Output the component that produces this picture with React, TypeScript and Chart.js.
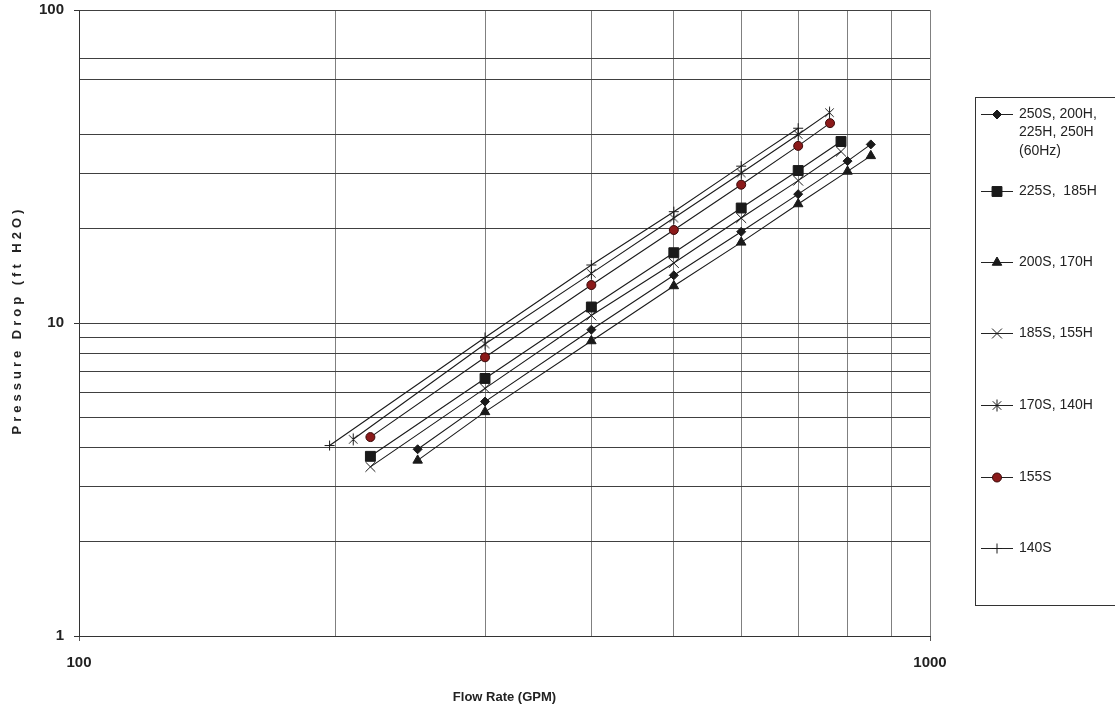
import React, { useEffect, useRef } from "react";
import { Chart, registerables } from "chart.js";

Chart.register(...registerables);

const FONT = '"Liberation Sans", Arial, Helvetica, sans-serif';

// ---- data ----
const flow250S = [250, 300, 400, 500, 600, 700, 800, 852];
const drop250S = [3.95, 5.61, 9.52, 14.2, 19.57, 25.8, 32.9, 37.2];
const flow225S = [220, 300, 400, 500, 600, 700, 786];
const drop225S = [3.75, 6.65, 11.25, 16.77, 23.3, 30.7, 38.0];
const flow200S = [250, 300, 400, 500, 600, 700, 800, 852];
const drop200S = [3.64, 5.2, 8.76, 13.13, 18.1, 24.0, 30.5, 34.2];
const flow185S = [220, 300, 400, 500, 600, 700, 786];
const drop185S = [3.47, 6.18, 10.57, 15.55, 21.65, 28.5, 35.3];
const flow170S = [210, 300, 400, 500, 600, 700, 762];
const drop170S = [4.25, 8.57, 14.41, 21.65, 30.15, 40.0, 47.0];
const flow155S = [220, 300, 400, 500, 600, 700, 763];
const drop155S = [4.32, 7.77, 13.22, 19.82, 27.66, 36.8, 43.5];
const flow140S = [197, 300, 400, 500, 600, 700];
const drop140S = [4.06, 8.99, 15.32, 22.68, 31.7, 41.9];

const legendLabels = [
  ["250S, 200H,", "225H, 250H", "(60Hz)"],
  ["225S,  185H"],
  ["200S, 170H"],
  ["185S, 155H"],
  ["170S, 140H"],
  ["155S"],
  ["140S"],
];

const yGridValues = [1, 2, 3, 4, 5, 6, 7, 8, 9, 10, 20, 30, 40, 60, 70, 100];
const xGridValues = [100, 200, 300, 400, 500, 600, 700, 800, 900, 1000];
const yLabelValues = [1, 10, 100];
const xLabelValues = [100, 1000];

const xTitle = "Flow Rate (GPM)";
const yTitle = "Pressure Drop (ft H2O)";

type Marker = { style: string; radius: number; fill: string; stroke: string; width: number };

const markers: Marker[] = [
  { style: "rectRot", radius: 4.5, fill: "#1a1a1a", stroke: "#1a1a1a", width: 1 },
  { style: "rect", radius: 7, fill: "#1a1a1a", stroke: "#1a1a1a", width: 1 },
  { style: "triangle", radius: 5.5, fill: "#1a1a1a", stroke: "#1a1a1a", width: 1 },
  { style: "crossRot", radius: 7, fill: "#1a1a1a", stroke: "#1a1a1a", width: 1 },
  { style: "asterisk", radius: 6, fill: "#1a1a1a", stroke: "#1a1a1a", width: 1 },
  { style: "circle", radius: 4.5, fill: "#8b1a1a", stroke: "#3a0a0a", width: 1 },
  { style: "cross", radius: 5, fill: "#1a1a1a", stroke: "#1a1a1a", width: 1 },
];

const seriesFlows = [flow250S, flow225S, flow200S, flow185S, flow170S, flow155S, flow140S];
const seriesDrops = [drop250S, drop225S, drop200S, drop185S, drop170S, drop155S, drop140S];

function drawMarker(ctx: CanvasRenderingContext2D, m: Marker, x: number, y: number) {
  const r = m.radius;
  ctx.save();
  ctx.fillStyle = m.fill;
  ctx.strokeStyle = m.stroke;
  ctx.lineWidth = m.width;
  ctx.beginPath();
  const q = Math.SQRT1_2 * r;
  switch (m.style) {
    case "rectRot":
      ctx.moveTo(x - r, y);
      ctx.lineTo(x, y - r);
      ctx.lineTo(x + r, y);
      ctx.lineTo(x, y + r);
      ctx.closePath();
      ctx.fill();
      ctx.stroke();
      break;
    case "rect":
      ctx.rect(x - q, y - q, 2 * q, 2 * q);
      ctx.fill();
      ctx.stroke();
      break;
    case "triangle": {
      const a = (2 * Math.PI) / 3;
      ctx.moveTo(x, y - r);
      ctx.lineTo(x + Math.sin(a) * r, y - Math.cos(a) * r);
      ctx.lineTo(x + Math.sin(2 * a) * r, y - Math.cos(2 * a) * r);
      ctx.closePath();
      ctx.fill();
      ctx.stroke();
      break;
    }
    case "circle":
      ctx.arc(x, y, r, 0, Math.PI * 2);
      ctx.fill();
      ctx.stroke();
      break;
    case "cross":
      ctx.moveTo(x, y - r);
      ctx.lineTo(x, y + r);
      ctx.moveTo(x - r, y);
      ctx.lineTo(x + r, y);
      ctx.stroke();
      break;
    case "crossRot":
      ctx.moveTo(x - q, y - q);
      ctx.lineTo(x + q, y + q);
      ctx.moveTo(x - q, y + q);
      ctx.lineTo(x + q, y - q);
      ctx.stroke();
      break;
    case "asterisk":
      ctx.moveTo(x, y - r);
      ctx.lineTo(x, y + r);
      ctx.moveTo(x - q, y - q);
      ctx.lineTo(x + q, y + q);
      ctx.moveTo(x - q, y + q);
      ctx.lineTo(x + q, y - q);
      ctx.stroke();
      break;
  }
  ctx.restore();
}

function makeAsteriskCanvas(m: Marker): HTMLCanvasElement {
  const size = Math.ceil(m.radius * 2 + 3);
  const c = document.createElement("canvas");
  c.width = size;
  c.height = size;
  const ctx = c.getContext("2d")!;
  drawMarker(ctx, m, size / 2, size / 2);
  return c;
}

const legendPlugin = {
  id: "boxLegend",
  afterDraw(chart: any) {
    const ctx: CanvasRenderingContext2D = chart.ctx;
    const boxX = 975.5;
    const boxY = 97.5;
    const boxW = 160;
    const boxH = 508;
    ctx.save();
    ctx.fillStyle = "#ffffff";
    ctx.fillRect(boxX, boxY, boxW, boxH);
    ctx.strokeStyle = "#333333";
    ctx.lineWidth = 1;
    ctx.strokeRect(boxX, boxY, boxW, boxH);
    const entryY = [114, 191, 262, 333, 405, 477, 548];
    ctx.font = `14px ${FONT}`;
    ctx.textBaseline = "middle";
    ctx.textAlign = "left";
    legendLabels.forEach((lines, i) => {
      const y = entryY[i];
      ctx.strokeStyle = "#222";
      ctx.lineWidth = 1;
      ctx.beginPath();
      ctx.moveTo(981, Math.round(y) + 0.5);
      ctx.lineTo(1013, Math.round(y) + 0.5);
      ctx.stroke();
      drawMarker(ctx, markers[i], 997, Math.round(y) + 0.5);
      ctx.fillStyle = "#222";
      lines.forEach((t, j) => ctx.fillText(t, 1019, y + j * 18.5));
    });
    ctx.restore();
  },
};

const yTitlePlugin = {
  id: "yTitleSpaced",
  afterDraw(chart: any) {
    const ctx: any = chart.ctx;
    const area = chart.chartArea;
    ctx.save();
    ctx.translate(17, (area.top + area.bottom) / 2 - 1);
    ctx.rotate(-Math.PI / 2);
    ctx.font = `bold 13px ${FONT}`;
    ctx.fillStyle = "#222";
    ctx.textAlign = "center";
    ctx.textBaseline = "middle";
    ctx.letterSpacing = "4px";
    ctx.fillText(yTitle, 2, 0);
    ctx.restore();
  },
};

export default function App() {
  const ref = useRef<HTMLCanvasElement | null>(null);
  useEffect(() => {
    if (!ref.current) return;
    const datasets = seriesFlows.map((fl, i) => ({
      label: legendLabels[i].join(" "),
      data: fl.map((x, k) => ({ x, y: seriesDrops[i][k] })),
      showLine: true,
      borderColor: "#1a1a1a",
      borderWidth: 1.1,
      pointStyle: markers[i].style === "asterisk" ? makeAsteriskCanvas(markers[i]) : markers[i].style,
      pointRadius: markers[i].radius,
      pointBackgroundColor: markers[i].fill,
      pointBorderColor: markers[i].stroke,
      pointBorderWidth: 1,
      tension: 0,
    }));
    const chart = new Chart(ref.current, {
      type: "scatter",
      data: { datasets },
      options: {
        animation: false,
        responsive: true,
        maintainAspectRatio: false,
        layout: { padding: { top: 10, left: 0, right: 185, bottom: 0 } },
        plugins: { legend: { display: false }, tooltip: { enabled: false } },
        scales: {
          x: {
            type: "logarithmic",
            min: 100,
            max: 1000,
            afterBuildTicks: (s: any) => {
              s.ticks = xGridValues.map((v) => ({ value: v }));
            },
            afterFit: (s: any) => {
              s.height = 70;
              s.paddingLeft = 0;
              s.paddingRight = 0;
            },
            ticks: {
              autoSkip: false,
              maxRotation: 0,
              padding: 13,
              color: "#222",
              font: { family: FONT, size: 15, weight: "bold" },
              callback: (v: any) => (xLabelValues.includes(Number(v)) ? String(v) : ""),
            },
            grid: {
              color: "#808080",
              lineWidth: 1,
              tickLength: 5,
              tickColor: (c: any) => (c.tick && xLabelValues.includes(c.tick.value) ? "#555" : "rgba(0,0,0,0)"),
            },
            border: { display: true, color: "#333", width: 1 },
            title: {
              display: true,
              text: xTitle,
              color: "#222",
              font: { family: FONT, size: 13, weight: "bold" },
              padding: { top: 0, bottom: 1 },
            },
          },
          y: {
            type: "logarithmic",
            min: 1,
            max: 100,
            afterBuildTicks: (s: any) => {
              s.ticks = yGridValues.map((v) => ({ value: v }));
            },
            afterFit: (s: any) => {
              s.width = 79;
              s.paddingTop = 0;
              s.paddingBottom = 0;
            },
            ticks: {
              autoSkip: false,
              padding: 10,
              color: "#222",
              font: { family: FONT, size: 15, weight: "bold" },
              callback: (v: any) => (yLabelValues.includes(Number(v)) ? String(v) : ""),
            },
            grid: {
              color: "#404040",
              lineWidth: 1,
              tickLength: 5,
              tickColor: (c: any) => (c.tick && yLabelValues.includes(c.tick.value) ? "#333" : "rgba(0,0,0,0)"),
            },
            border: { display: true, color: "#333", width: 1 },
            title: { display: false, text: yTitle },
          },
        },
      } as any,
      plugins: [legendPlugin, yTitlePlugin],
    });
    return () => chart.destroy();
  }, []);
  return (
    <div style={{ position: "absolute", left: 0, top: 0, width: 1115, height: 706, background: "#fff" }}>
      <canvas ref={ref} />
    </div>
  );
}
